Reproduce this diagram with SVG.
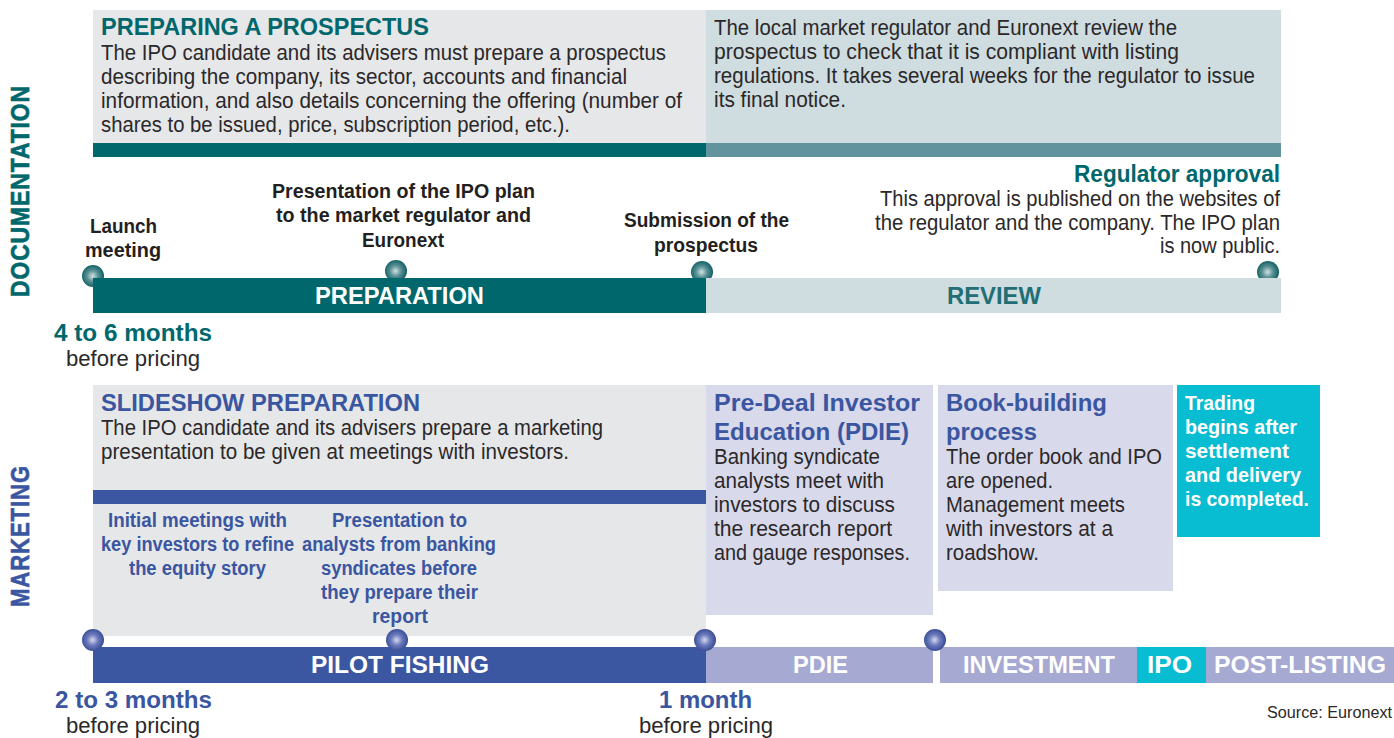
<svg xmlns="http://www.w3.org/2000/svg" width="1394" height="738" viewBox="0 0 1394 738">
<defs>
<radialGradient id="gTeal" cx="0.48" cy="0.5" r="0.55">
<stop offset="0" stop-color="#d2e2e3"/>
<stop offset="0.45" stop-color="#5b9296"/>
<stop offset="1" stop-color="#07585c"/>
</radialGradient>
<radialGradient id="gBlue" cx="0.48" cy="0.5" r="0.55">
<stop offset="0" stop-color="#d6daf0"/>
<stop offset="0.45" stop-color="#6c7bbd"/>
<stop offset="1" stop-color="#33458e"/>
</radialGradient>
<style>
text{font-family:"Liberation Sans",Arial,sans-serif;}
.body{font-size:22px;fill:#2b2829;}
.ttl{font-size:23px;font-weight:bold;}
.teal{fill:#00686c;}
.blue{fill:#3a56a0;}
.ev{font-size:20px;font-weight:bold;fill:#231f20;}
.evb{font-size:20px;font-weight:bold;fill:#3a56a0;}
.bar{font-size:23px;font-weight:bold;fill:#ffffff;}
.side{font-size:25px;font-weight:900;letter-spacing:1px;}
.mon{font-size:23px;font-weight:bold;}
.wh{font-size:21px;font-weight:bold;fill:#ffffff;}
.src{font-size:16px;fill:#2b2829;}
.m{text-anchor:middle;}
.e{text-anchor:end;}
</style>
</defs>
<rect width="1394" height="738" fill="#ffffff"/>

<g id="label-documentation">
<text class="side teal m" transform="translate(29,191) rotate(-90)" textLength="212" lengthAdjust="spacingAndGlyphs" stroke="#00686c" stroke-width="0.6">DOCUMENTATION</text>
</g>
<g id="label-marketing">
<text class="side blue m" transform="translate(29,536) rotate(-90)" textLength="142" lengthAdjust="spacingAndGlyphs" stroke="#3a56a0" stroke-width="0.6">MARKETING</text>
</g>

<g id="prospectus-box">
<rect x="93" y="10" width="613" height="135" fill="#e6e7e9"/>
<rect x="93" y="143" width="613" height="14" fill="#00686c"/>
<text class="ttl teal" x="101" y="35" textLength="328" lengthAdjust="spacingAndGlyphs">PREPARING A PROSPECTUS</text>
<text class="body" x="101" y="60" textLength="565" lengthAdjust="spacingAndGlyphs">The IPO candidate and its advisers must prepare a prospectus</text>
<text class="body" x="101" y="84" textLength="526" lengthAdjust="spacingAndGlyphs">describing the company, its sector, accounts and financial</text>
<text class="body" x="101" y="108" textLength="581" lengthAdjust="spacingAndGlyphs">information, and also details concerning the offering (number of</text>
<text class="body" x="101" y="132" textLength="469" lengthAdjust="spacingAndGlyphs">shares to be issued, price, subscription period, etc.).</text>
</g>

<g id="review-box">
<rect x="706" y="10" width="575" height="135" fill="#cfdce0"/>
<rect x="706" y="143" width="575" height="14" fill="#62949d"/>
<text class="body" x="714" y="35" textLength="463" lengthAdjust="spacingAndGlyphs">The local market regulator and Euronext review the</text>
<text class="body" x="714" y="59" textLength="465" lengthAdjust="spacingAndGlyphs">prospectus to check that it is compliant with listing</text>
<text class="body" x="714" y="83" textLength="541" lengthAdjust="spacingAndGlyphs">regulations. It takes several weeks for the regulator to issue</text>
<text class="body" x="714" y="107" textLength="132" lengthAdjust="spacingAndGlyphs">its final notice.</text>
</g>

<g id="event-launch">
<text class="ev m" x="123.5" y="233" textLength="67" lengthAdjust="spacingAndGlyphs">Launch</text>
<text class="ev m" x="123" y="257" textLength="76" lengthAdjust="spacingAndGlyphs">meeting</text>
<circle cx="93" cy="276" r="11" fill="url(#gTeal)"/>
</g>
<g id="event-presentation">
<text class="ev m" x="403.5" y="198" textLength="263" lengthAdjust="spacingAndGlyphs">Presentation of the IPO plan</text>
<text class="ev m" x="403.5" y="222" textLength="255" lengthAdjust="spacingAndGlyphs">to the market regulator and</text>
<text class="ev m" x="403" y="247" textLength="82" lengthAdjust="spacingAndGlyphs">Euronext</text>
<circle cx="396" cy="271" r="11" fill="url(#gTeal)"/>
</g>
<g id="event-submission">
<text class="ev m" x="706.5" y="227" textLength="165" lengthAdjust="spacingAndGlyphs">Submission of the</text>
<text class="ev m" x="706" y="252" textLength="104" lengthAdjust="spacingAndGlyphs">prospectus</text>
<circle cx="702" cy="272" r="11" fill="url(#gTeal)"/>
</g>
<g id="event-approval">
<text class="ttl teal e" x="1280" y="182" textLength="206" lengthAdjust="spacingAndGlyphs">Regulator approval</text>
<text class="body e" x="1280" y="206" textLength="400" lengthAdjust="spacingAndGlyphs">This approval is published on the websites of</text>
<text class="body e" x="1280" y="230" textLength="405" lengthAdjust="spacingAndGlyphs">the regulator and the company. The IPO plan</text>
<text class="body e" x="1280" y="253" textLength="120" lengthAdjust="spacingAndGlyphs">is now public.</text>
<circle cx="1268" cy="272" r="11" fill="url(#gTeal)"/>
</g>

<g id="bar-preparation">
<rect x="93" y="278" width="613" height="35" fill="#00686c"/>
<text class="bar m" x="399.5" y="304" textLength="169" lengthAdjust="spacingAndGlyphs">PREPARATION</text>
</g>
<g id="bar-review">
<rect x="706" y="278" width="575" height="35" fill="#cfdce0"/>
<text class="bar m" x="994" y="304" textLength="94" lengthAdjust="spacingAndGlyphs" style="fill:#1f6f74">REVIEW</text>
</g>

<g id="time-4-6">
<text class="mon teal m" x="133" y="341" textLength="158" lengthAdjust="spacingAndGlyphs">4 to 6 months</text>
<text class="body m" x="133" y="366" textLength="134" lengthAdjust="spacingAndGlyphs">before pricing</text>
</g>

<g id="slideshow-box">
<rect x="93" y="385" width="613" height="251" fill="#e6e7e9"/>
<rect x="93" y="490" width="613" height="14" fill="#3b57a1"/>
<text class="ttl blue" x="101" y="411" textLength="319" lengthAdjust="spacingAndGlyphs">SLIDESHOW PREPARATION</text>
<text class="body" x="101" y="435" textLength="502" lengthAdjust="spacingAndGlyphs">The IPO candidate and its advisers prepare a marketing</text>
<text class="body" x="101" y="459" textLength="468" lengthAdjust="spacingAndGlyphs">presentation to be given at meetings with investors.</text>
</g>
<g id="event-initial-meetings">
<text class="evb m" x="197.5" y="527" textLength="179" lengthAdjust="spacingAndGlyphs">Initial meetings with</text>
<text class="evb m" x="197.5" y="551" textLength="193" lengthAdjust="spacingAndGlyphs">key investors to refine</text>
<text class="evb m" x="197.5" y="575" textLength="137" lengthAdjust="spacingAndGlyphs">the equity story</text>
</g>
<g id="event-analysts">
<text class="evb m" x="399.5" y="527" textLength="135" lengthAdjust="spacingAndGlyphs">Presentation to</text>
<text class="evb m" x="399" y="551" textLength="194" lengthAdjust="spacingAndGlyphs">analysts from banking</text>
<text class="evb m" x="399" y="575" textLength="156" lengthAdjust="spacingAndGlyphs">syndicates before</text>
<text class="evb m" x="399.5" y="599" textLength="157" lengthAdjust="spacingAndGlyphs">they prepare their</text>
<text class="evb m" x="400" y="623" textLength="56" lengthAdjust="spacingAndGlyphs">report</text>
</g>

<g id="pdie-box">
<rect x="706" y="385" width="227" height="230" fill="#d8d9ea"/>
<text class="ttl blue" x="714" y="411" textLength="206" lengthAdjust="spacingAndGlyphs">Pre-Deal Investor</text>
<text class="ttl blue" x="714" y="440" textLength="195" lengthAdjust="spacingAndGlyphs">Education (PDIE)</text>
<text class="body" x="714" y="464" textLength="166" lengthAdjust="spacingAndGlyphs">Banking syndicate</text>
<text class="body" x="714" y="488" textLength="170" lengthAdjust="spacingAndGlyphs">analysts meet with</text>
<text class="body" x="714" y="512" textLength="181" lengthAdjust="spacingAndGlyphs">investors to discuss</text>
<text class="body" x="714" y="536" textLength="178" lengthAdjust="spacingAndGlyphs">the research report</text>
<text class="body" x="714" y="560" textLength="196" lengthAdjust="spacingAndGlyphs">and gauge responses.</text>
</g>

<g id="bookbuilding-box">
<rect x="938" y="385" width="235" height="206" fill="#d8d9ea"/>
<text class="ttl blue" x="946" y="411" textLength="161" lengthAdjust="spacingAndGlyphs">Book-building</text>
<text class="ttl blue" x="946" y="440" textLength="91" lengthAdjust="spacingAndGlyphs">process</text>
<text class="body" x="946" y="464" textLength="216" lengthAdjust="spacingAndGlyphs">The order book and IPO</text>
<text class="body" x="946" y="488" textLength="107" lengthAdjust="spacingAndGlyphs">are opened.</text>
<text class="body" x="946" y="512" textLength="179" lengthAdjust="spacingAndGlyphs">Management meets</text>
<text class="body" x="946" y="536" textLength="167" lengthAdjust="spacingAndGlyphs">with investors at a</text>
<text class="body" x="946" y="560" textLength="93" lengthAdjust="spacingAndGlyphs">roadshow.</text>
</g>

<g id="trading-box">
<rect x="1177" y="385" width="143" height="152" fill="#08bcd1"/>
<text class="wh" x="1185" y="410" textLength="70" lengthAdjust="spacingAndGlyphs">Trading</text>
<text class="wh" x="1185" y="434" textLength="112" lengthAdjust="spacingAndGlyphs">begins after</text>
<text class="wh" x="1185" y="458" textLength="104" lengthAdjust="spacingAndGlyphs">settlement</text>
<text class="wh" x="1185" y="482" textLength="116" lengthAdjust="spacingAndGlyphs">and delivery</text>
<text class="wh" x="1185" y="506" textLength="124" lengthAdjust="spacingAndGlyphs">is completed.</text>
</g>

<g id="bar-pilot-fishing">
<rect x="93" y="647" width="613" height="36" fill="#3b57a1"/>
<text class="bar m" x="400" y="673" textLength="178" lengthAdjust="spacingAndGlyphs">PILOT FISHING</text>
</g>
<g id="bar-pdie">
<rect x="706" y="647" width="227" height="36" fill="#a6a9d1"/>
<text class="bar m" x="820.5" y="673" textLength="55" lengthAdjust="spacingAndGlyphs">PDIE</text>
</g>
<g id="bar-investment">
<rect x="940" y="647" width="197" height="36" fill="#a6a9d1"/>
<text class="bar m" x="1039" y="673" textLength="152" lengthAdjust="spacingAndGlyphs">INVESTMENT</text>
</g>
<g id="bar-ipo">
<rect x="1137" y="647" width="69" height="36" fill="#08bcd1"/>
<text class="bar m" x="1169.5" y="673" textLength="45" lengthAdjust="spacingAndGlyphs">IPO</text>
</g>
<g id="bar-post-listing">
<rect x="1206" y="647" width="188" height="36" fill="#a6a9d1"/>
<text class="bar m" x="1300" y="673" textLength="172" lengthAdjust="spacingAndGlyphs">POST-LISTING</text>
</g>

<g id="marketing-dots">
<circle cx="93" cy="640" r="11" fill="url(#gBlue)"/>
<circle cx="397" cy="640" r="11" fill="url(#gBlue)"/>
<circle cx="705" cy="640" r="11" fill="url(#gBlue)"/>
<circle cx="935" cy="640" r="11" fill="url(#gBlue)"/>
</g>

<g id="time-2-3">
<text class="mon blue m" x="133.5" y="708" textLength="157" lengthAdjust="spacingAndGlyphs">2 to 3 months</text>
<text class="body m" x="133" y="733" textLength="134" lengthAdjust="spacingAndGlyphs">before pricing</text>
</g>
<g id="time-1">
<text class="mon blue m" x="705.5" y="708" textLength="93" lengthAdjust="spacingAndGlyphs">1 month</text>
<text class="body m" x="706" y="733" textLength="134" lengthAdjust="spacingAndGlyphs">before pricing</text>
</g>

<g id="source">
<text class="src e" x="1392" y="718" textLength="125" lengthAdjust="spacingAndGlyphs">Source: Euronext</text>
</g>

<g id="connectors"></g>
</svg>
